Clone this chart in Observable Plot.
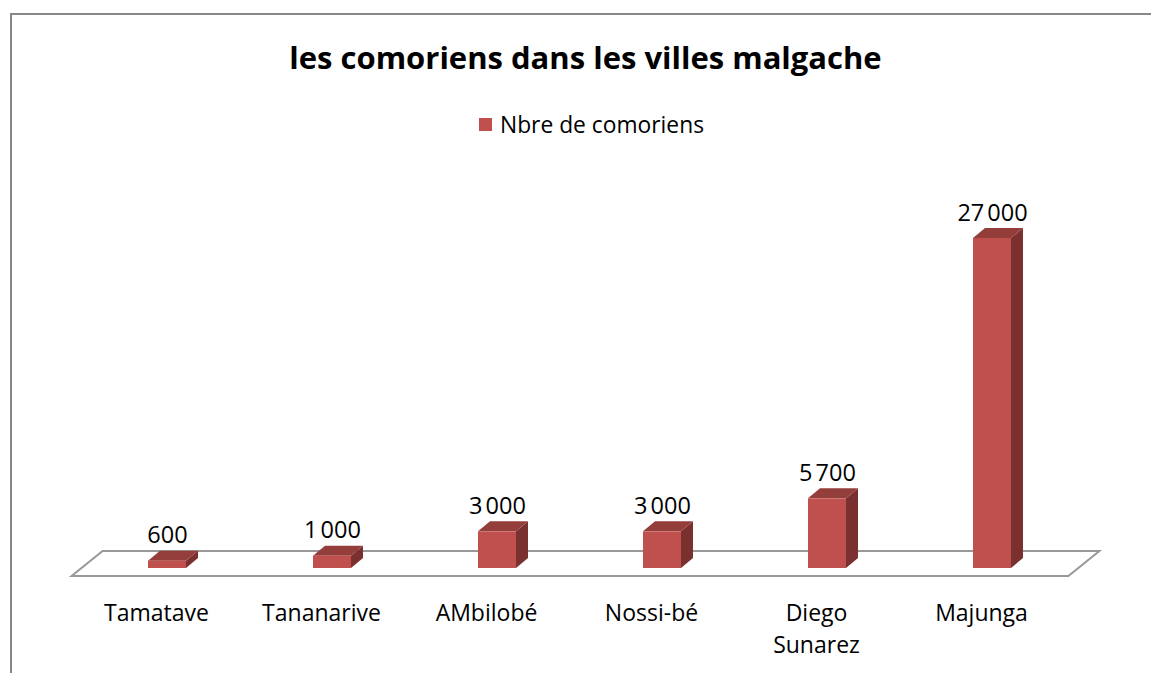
<!DOCTYPE html>
<html><head><meta charset="utf-8">
<script src="https://cdn.jsdelivr.net/npm/d3@7"></script>
<script src="https://cdn.jsdelivr.net/npm/@observablehq/plot@0.6"></script>
<style>
body{margin:0;background:#fff;}
#wrap{position:relative;width:1151px;height:673px;overflow:hidden;font-family:"Open Sans",sans-serif;color:#000;}
#frame{position:absolute;left:10px;top:13px;right:-10px;bottom:-10px;border-top:2px solid #888;border-left:2px solid #888;}
#title{position:absolute;top:37px;left:10px;width:1151px;text-align:center;font-weight:bold;font-size:31px;line-height:40px;white-space:nowrap;}
#legend{position:absolute;top:108px;left:479px;height:32px;display:flex;align-items:center;font-size:22.8px;white-space:nowrap;}
#legend .sw{width:13px;height:13px;background:#C0504D;margin-right:8px;}
#chart{position:absolute;left:0;top:150px;}
</style>
</head><body>
<div id="wrap">
  <div id="frame"></div>
  <div id="title">les comoriens dans les villes malgache</div>
  <div id="legend"><span class="sw"></span><span>Nbre de comoriens</span></div>
  <div id="chart"></div>
</div>
<script>
const cities = ["Tamatave", "Tananarive", "AMbilobé", "Nossi-bé", "Diego Sunarez", "Majunga"];
const cityLabels = ["Tamatave", "Tananarive", "AMbilobé", "Nossi-bé", "Diego\nSunarez", "Majunga"];
const counts = [600, 1000, 3000, 3000, 5700, 27000];
const seriesName = "Nbre de comoriens";

const FRONT = "#C0504D", TOP = "#943E3C", SIDE = "#7A302F";
const DX = 12, DY = -10;

const data = cities.map((c, i) => ({city: c, label: cityLabels[i], value: counts[i]}));
const fmt = v => d3.format(",")(v).replace(/,/g, "\u202F");

function floorMark(index, scales, values, dimensions) {
  const x = scales.x, y = scales.y;
  const [r0, r1] = x.range();
  const yb = y(0);
  const fl = r0 - 10, fr = r1 - 8, fy = yb + 8;
  const bx = 31, by = -25;
  const pts = [[fl, fy], [fr, fy], [fr + bx, fy + by], [fl + bx, fy + by]];
  const g = d3.create("svg:g");
  g.append("polygon").attr("points", pts.map(p => p.join(",")).join(" "))
    .attr("fill", "#fff").attr("stroke", "#999").attr("stroke-width", 2);
  return g.node();
}

function depthMark(index, scales, values, dimensions) {
  const x = scales.x, y = scales.y;
  const bw = x.bandwidth ? x.bandwidth() : 38;
  const g = d3.create("svg:g");
  data.forEach(d => {
    const x0 = x(d.city), x1 = x0 + bw, yt = y(d.value), yb = y(0);
    g.append("polygon").attr("points", [[x1, yb], [x1 + DX, yb + DY], [x1 + DX, yt + DY], [x1, yt]].map(p => p.join(",")).join(" ")).attr("fill", SIDE);
    g.append("polygon").attr("points", [[x0, yt], [x0 + DX, yt + DY], [x1 + DX, yt + DY], [x1, yt]].map(p => p.join(",")).join(" ")).attr("fill", TOP);
  });
  return g.node();
}

const plot = Plot.plot({
  width: 1151,
  height: 523,
  marginLeft: 81.6,
  marginRight: 74.6,
  marginTop: 88,
  marginBottom: 105,
  style: {fontFamily: "'Open Sans', sans-serif", background: "transparent", overflow: "visible"},
  x: {domain: cities, paddingInner: 0.77, paddingOuter: 0.385, label: null},
  y: {domain: [0, d3.max(counts)], axis: null},
  marks: [
    floorMark,
    depthMark,
    Plot.barY(data, {x: "city", y: "value", fill: FRONT}),
    Plot.text(data, {x: "city", y: "value", text: d => fmt(d.value), dy: -18, lineAnchor: "bottom", fontSize: 23.5, fill: "#000"}),
    Plot.axisX({tickSize: 0, tickPadding: 29, fontSize: 23, dx: -11, lineHeight: 1.42, lineAnchor: "top",
      tickFormat: c => cityLabels[cities.indexOf(c)], label: null, fill: "#000"})
  ]
});
document.getElementById("chart").appendChild(plot);
</script>
</body></html>
